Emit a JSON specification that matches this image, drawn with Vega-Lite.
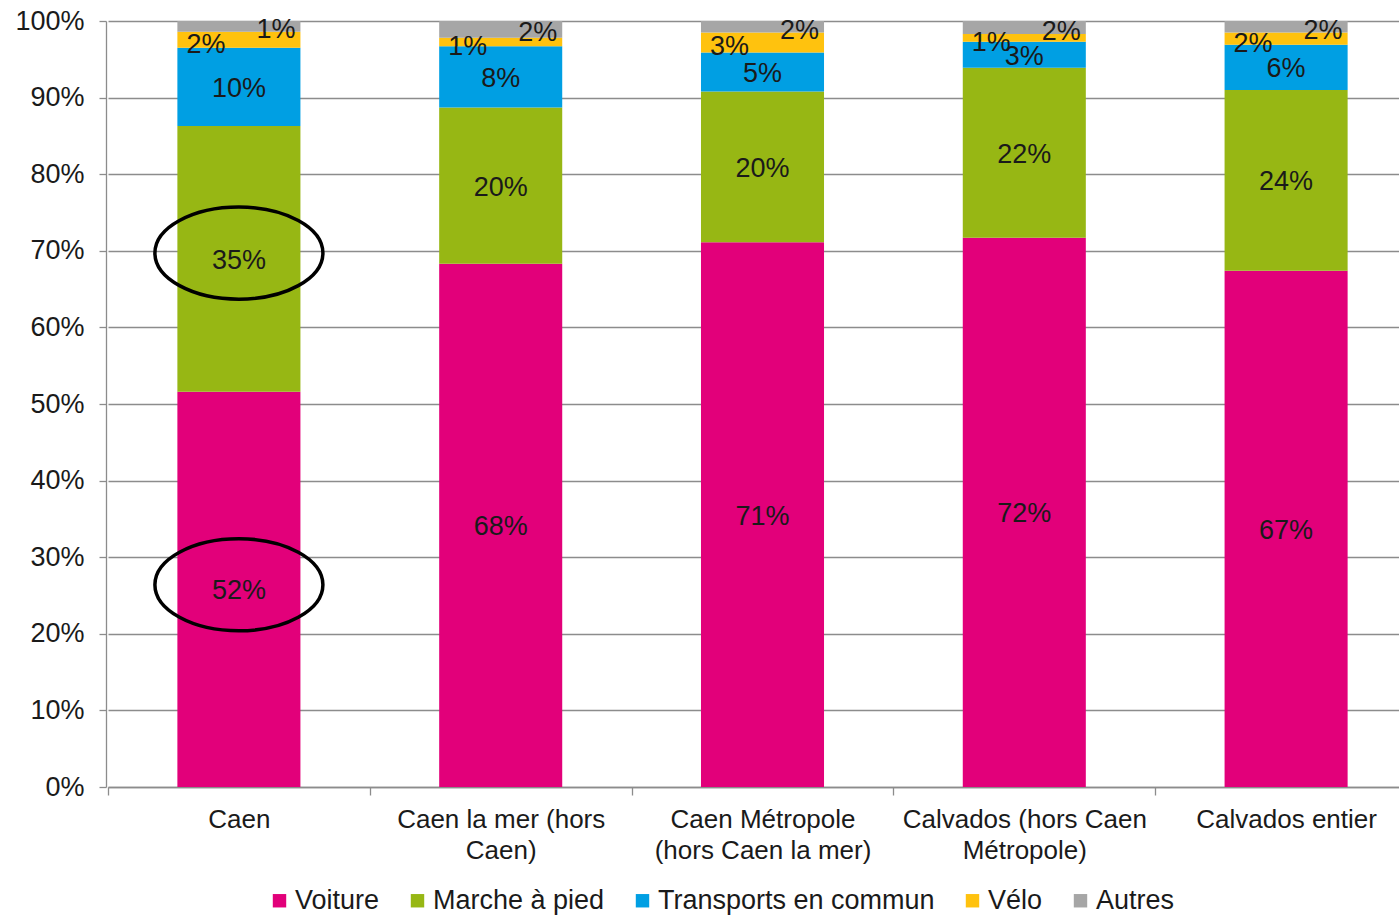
{
  "$schema": "https://vega.github.io/schema/vega-lite/v6.json",
  "autosize": {"type": "none"},
  "padding": {"left": 106, "top": 21, "right": 0, "bottom": 128},
  "width": 1293,
  "height": 766,
  "background": "white",
  "config": {
    "font": "Liberation Sans",
    "view": {"stroke": null}
  },
  "datasets": {
    "shares": [
      {"zone": "Caen", "mode": "Voiture", "value": 51.6},
      {"zone": "Caen", "mode": "Marche à pied", "value": 34.7},
      {"zone": "Caen", "mode": "Transports en commun", "value": 10.2},
      {"zone": "Caen", "mode": "Vélo", "value": 2.1},
      {"zone": "Caen", "mode": "Autres", "value": 1.4},
      {"zone": "Caen la mer (hors Caen)", "mode": "Voiture", "value": 68.3},
      {"zone": "Caen la mer (hors Caen)", "mode": "Marche à pied", "value": 20.4},
      {"zone": "Caen la mer (hors Caen)", "mode": "Transports en commun", "value": 8.0},
      {"zone": "Caen la mer (hors Caen)", "mode": "Vélo", "value": 1.1},
      {"zone": "Caen la mer (hors Caen)", "mode": "Autres", "value": 2.2},
      {"zone": "Caen Métropole (hors Caen la mer)", "mode": "Voiture", "value": 71.1},
      {"zone": "Caen Métropole (hors Caen la mer)", "mode": "Marche à pied", "value": 19.7},
      {"zone": "Caen Métropole (hors Caen la mer)", "mode": "Transports en commun", "value": 5.1},
      {"zone": "Caen Métropole (hors Caen la mer)", "mode": "Vélo", "value": 2.6},
      {"zone": "Caen Métropole (hors Caen la mer)", "mode": "Autres", "value": 1.5},
      {"zone": "Calvados (hors Caen Métropole)", "mode": "Voiture", "value": 71.7},
      {"zone": "Calvados (hors Caen Métropole)", "mode": "Marche à pied", "value": 22.2},
      {"zone": "Calvados (hors Caen Métropole)", "mode": "Transports en commun", "value": 3.4},
      {"zone": "Calvados (hors Caen Métropole)", "mode": "Vélo", "value": 1.0},
      {"zone": "Calvados (hors Caen Métropole)", "mode": "Autres", "value": 1.7},
      {"zone": "Calvados entier", "mode": "Voiture", "value": 67.4},
      {"zone": "Calvados entier", "mode": "Marche à pied", "value": 23.6},
      {"zone": "Calvados entier", "mode": "Transports en commun", "value": 5.9},
      {"zone": "Calvados entier", "mode": "Vélo", "value": 1.6},
      {"zone": "Calvados entier", "mode": "Autres", "value": 1.5}
    ],
    "highlights": [
      {"zone": "Caen", "level": 69.7},
      {"zone": "Caen", "level": 26.4}
    ]
  },
  "data": {"name": "shares"},
  "transform": [
    {"calculate": "indexof(['Voiture','Marche à pied','Transports en commun','Vélo','Autres'], datum.mode)", "as": "k"},
    {"stack": "value", "groupby": ["zone"], "sort": [{"field": "k", "order": "ascending"}], "as": ["v0", "v1"]},
    {"calculate": "(datum.v0 + datum.v1) / 2", "as": "mid"},
    {"calculate": "format(datum.value, '.0f') + '%'", "as": "label"}
  ],
  "encoding": {
    "x": {
      "field": "zone",
      "type": "nominal",
      "sort": null,
      "scale": {"range": [2, 1311], "paddingInner": 0, "paddingOuter": 0},
      "axis": {
        "title": null,
        "labelAngle": 0,
        "labelFontSize": 26,
        "labelColor": "#1a1a1a",
        "labelPadding": 11,
        "labelLineHeight": 31,
        "labelBaseline": "top",
        "labelLimit": 0,
        "tickBand": "extent",
        "tickSize": 8,
        "tickColor": "#8c8c8c",
        "tickWidth": 1.3,
        "domainColor": "#8c8c8c",
        "domainWidth": 1.3,
        "grid": false,
        "labelExpr": "datum.value == 'Caen la mer (hors Caen)' ? ['Caen la mer (hors', 'Caen)'] : datum.value == 'Caen Métropole (hors Caen la mer)' ? ['Caen Métropole', '(hors Caen la mer)'] : datum.value == 'Calvados (hors Caen Métropole)' ? ['Calvados (hors Caen', 'Métropole)'] : datum.value"
      }
    }
  },
  "layer": [
    {
      "mark": {"type": "bar", "width": {"band": 0.47}},
      "encoding": {
        "y": {
          "field": "v0",
          "type": "quantitative",
          "scale": {"domain": [0, 100], "nice": false},
          "axis": {
            "title": null,
            "values": [0, 10, 20, 30, 40, 50, 60, 70, 80, 90, 100],
            "labelExpr": "datum.value + '%'",
            "labelFontSize": 27,
            "labelColor": "#1a1a1a",
            "labelPadding": 15,
            "tickSize": 7,
            "tickColor": "#8c8c8c",
            "tickWidth": 1.3,
            "domainColor": "#8c8c8c",
            "domainWidth": 1.3,
            "grid": true,
            "gridColor": "#8c8c8c",
            "gridWidth": 1.3
          }
        },
        "y2": {"field": "v1"},
        "color": {
          "field": "mode",
          "type": "nominal",
          "sort": ["Voiture", "Marche à pied", "Transports en commun", "Vélo", "Autres"],
          "scale": {
            "domain": ["Voiture", "Marche à pied", "Transports en commun", "Vélo", "Autres"],
            "range": ["#E2007A", "#97B714", "#009FE3", "#FFC20E", "#A6A6A6"]
          },
          "legend": {
            "title": null,
            "orient": "none",
            "direction": "horizontal",
            "legendX": 160,
            "legendY": 866,
            "symbolType": "square",
            "symbolSize": 180,
            "symbolStrokeWidth": 0,
            "labelFontSize": 27,
            "labelColor": "#1a1a1a",
            "labelLimit": 0,
            "labelOffset": 2,
            "columnPadding": 24
          }
        }
      }
    },
    {
      "transform": [{"filter": "datum.mode == 'Voiture' || datum.mode == 'Marche à pied' || datum.mode == 'Transports en commun'"}],
      "mark": {"type": "text", "fontSize": 27, "color": "#1a1a1a", "baseline": "middle", "align": "center", "dy": 2},
      "encoding": {
        "y": {"field": "mid", "type": "quantitative"},
        "text": {"field": "label", "type": "nominal"}
      }
    },
    {
      "transform": [{"filter": "datum.mode == 'Vélo'"}],
      "mark": {"type": "text", "fontSize": 27, "color": "#1a1a1a", "baseline": "middle", "align": "center", "dx": -33, "dy": 5},
      "encoding": {
        "y": {"field": "mid", "type": "quantitative"},
        "text": {"field": "label", "type": "nominal"}
      }
    },
    {
      "transform": [{"filter": "datum.mode == 'Autres'"}],
      "mark": {"type": "text", "fontSize": 27, "color": "#1a1a1a", "baseline": "middle", "align": "center", "dx": 37, "dy": 4},
      "encoding": {
        "y": {"field": "mid", "type": "quantitative"},
        "text": {"field": "label", "type": "nominal"}
      }
    },
    {
      "data": {"name": "highlights"},
      "transform": [],
      "mark": {
        "type": "point",
        "shape": "M -1 0 A 1 0.548 0 1 0 1 0 A 1 0.548 0 1 0 -1 0 Z",
        "filled": false,
        "stroke": "black",
        "strokeWidth": 3.5,
        "opacity": 1,
        "size": 28224
      },
      "encoding": {
        "y": {"field": "level", "type": "quantitative"}
      }
    }
  ]
}
